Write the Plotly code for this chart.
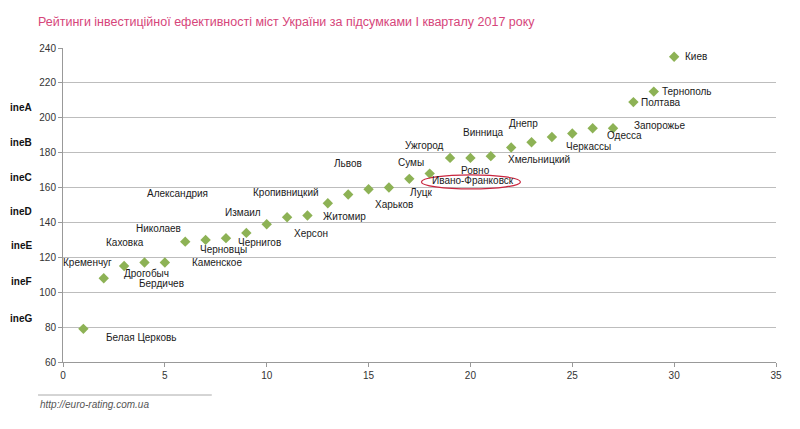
import plotly.graph_objects as go

# Data
cities = ["Белая Церковь", "Кременчуг", "Дрогобыч", "Бердичев", "Каховка", "Николаев",
          "Александрия", "Черновцы", "Каменское", "Чернигов", "Измаил", "Херсон",
          "Кропивницкий", "Житомир", "Львов", "Харьков", "Сумы", "Луцк", "Ровно",
          "Ивано-Франковск", "Ужгород", "Винница", "Хмельницкий", "Днепр", "Черкассы",
          "Одесса", "Запорожье", "Полтава", "Тернополь", "Киев"]
rank = list(range(1, 31))
score = [79, 108, 115, 117, 117, 129, 130, 131, 134, 139, 143, 144, 151, 156, 159,
         160, 165, 168, 177, 177, 178, 183, 186, 189, 191, 194, 194, 209, 215, 235]

grades = ["ineA", "ineB", "ineC", "ineD", "ineE", "ineF", "ineG"]
grade_y = [206, 186, 166, 146, 127, 106, 85]

highlight = "Ивано-Франковск"

# label offsets in pixels (dx right, dy down) relative to each point
label_off = [(58, 9), (-16, -16), (22, 7), (17, 21), (-40, -20), (-27, -13),
             (-28, -46), (-2, 11), (-29, 30), (-7, 18), (-44, -5), (4, 18),
             (-42, -11), (-4, 22), (-21, -26), (5, 17), (2, -16), (-9, 19),
             (25, 13), (3, 23), (-66, -11), (-28, -15), (7, 17), (-28, -13),
             (16, 13), (32, 7), (46, -3), (28, 0), (33, 0), (22, 0)]

# plot area size in pixels (used for paper-placed extras)
PW, PH = 714, 314
FONT = "Liberation Sans, Arial"

fig = go.Figure()

fig.add_trace(go.Scatter(
    x=rank, y=score, mode="markers",
    marker=dict(symbol="diamond", size=8, color="#8db255"),
    hovertext=cities, showlegend=False
))

label_font = dict(family=FONT, size=10, color="#1a1a1a")
for c, xv, yv, (dx, dy) in zip(cities, rank, score, label_off):
    fig.add_annotation(x=xv, y=yv, text=c, showarrow=False,
                       xshift=dx, yshift=-dy, font=label_font)

# highlight ellipse round Ivano-Frankivsk label
i = cities.index(highlight)
fig.add_shape(type="circle", xref="x", yref="y",
              xsizemode="pixel", ysizemode="pixel",
              xanchor=rank[i], yanchor=score[i],
              x0=-49, x1=50, y0=-31, y1=-17,
              line=dict(color="#c8263f", width=1.2))

for g, gy in zip(grades, grade_y):
    fig.add_annotation(x=-42 / PW, xref="paper", y=gy, yref="y", text="<b>" + g + "</b>",
                       showarrow=False, xanchor="center",
                       font=dict(family=FONT, size=10, color="#111"))

# source line and text
fig.add_annotation(x=-25 / PW, xref="paper", y=-42 / PH, yref="paper",
                   yanchor="middle", xanchor="left",
                   text="<i>http://euro-rating.com.ua</i>", showarrow=False,
                   font=dict(family=FONT, size=10, color="#555"))
fig.add_shape(type="line", xref="paper", yref="paper",
              x0=-25 / PW, x1=149 / PW, y0=-33 / PH, y1=-33 / PH,
              line=dict(color="#aaaaaa", width=1))

fig.update_layout(
    width=784, height=413,
    margin=dict(l=55, r=10, t=40, b=59),
    paper_bgcolor="white", plot_bgcolor="white",
    title=dict(text="Рейтинги інвестиційної ефективності міст України за підсумками I кварталу 2017 року",
               x=30 / 784, xanchor="left", y=1 - 14 / 413, yanchor="middle",
               font=dict(family=FONT, size=12.5, color="#d6457a")),
    xaxis=dict(range=[0, 35], dtick=5, showgrid=False, showline=True, linecolor="#999",
               ticks="outside", ticklen=4, tickcolor="#999", zeroline=False,
               tickfont=dict(family=FONT, size=10, color="#333")),
    yaxis=dict(range=[60, 240], dtick=20, showgrid=True, gridcolor="#bdbdbd",
               showline=True, linecolor="#999", ticks="outside", ticklen=4,
               tickcolor="#999", zeroline=False,
               tickfont=dict(family=FONT, size=10, color="#333")),
)

fig.write_html("out.html")
